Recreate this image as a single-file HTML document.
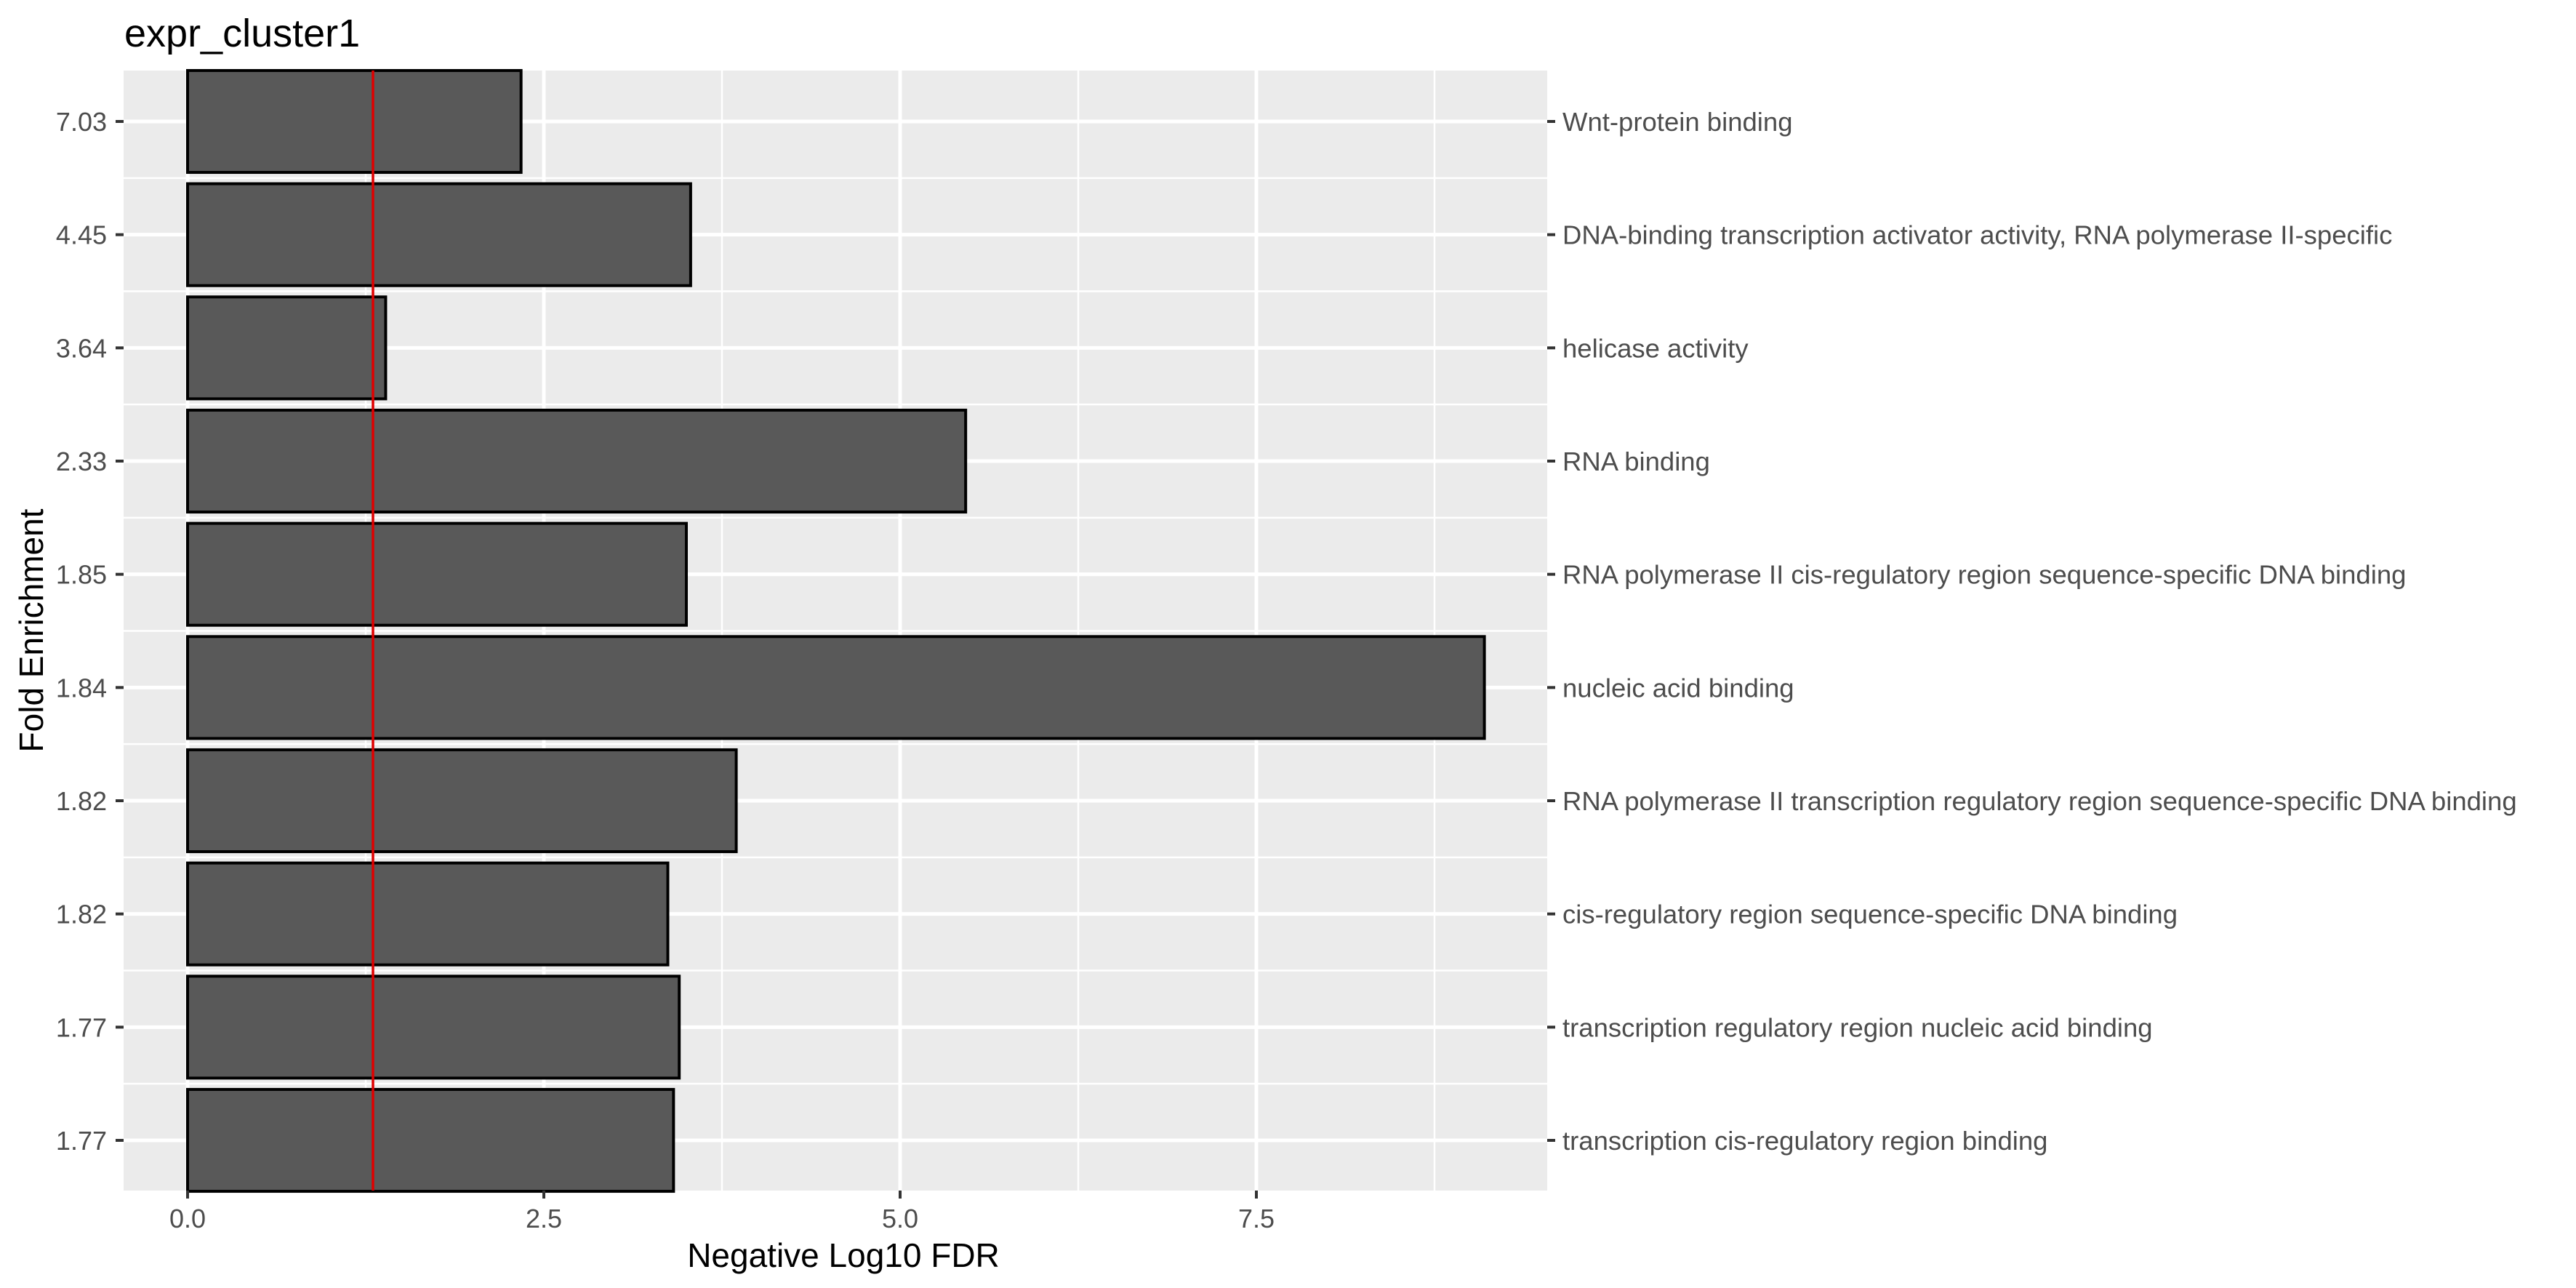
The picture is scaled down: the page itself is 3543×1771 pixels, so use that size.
<!DOCTYPE html>
<html><head><meta charset="utf-8"><style>html,body{margin:0;padding:0;background:#fff}svg{display:block}text{font-family:"Liberation Sans",sans-serif}</style></head>
<body>
<svg id="chart" width="3543" height="1771" viewBox="0 0 3543 1771" xmlns="http://www.w3.org/2000/svg">
<rect x="0" y="0" width="3543" height="1771" fill="#fff"/>
<rect x="170" y="97" width="1958" height="1540" fill="#EBEBEB"/>
<g id="grid"></g><g id="bars"></g><g id="axes"></g>
<text x="171" y="64" font-size="54" fill="#000">expr_cluster1</text>
<text x="1160" y="1742" font-size="46" text-anchor="middle" fill="#000">Negative Log10 FDR</text>
<text transform="translate(59,867) rotate(-90)" font-size="46" text-anchor="middle" fill="#000">Fold Enrichment</text>
</svg>
<script>
const foldLabels=["7.03","4.45","3.64","2.33","1.85","1.84","1.82","1.82","1.77","1.77"];
const terms=["Wnt-protein binding","DNA-binding transcription activator activity, RNA polymerase II-specific","helicase activity","RNA binding","RNA polymerase II cis-regulatory region sequence-specific DNA binding","nucleic acid binding","RNA polymerase II transcription regulatory region sequence-specific DNA binding","cis-regulatory region sequence-specific DNA binding","transcription regulatory region nucleic acid binding","transcription cis-regulatory region binding"];
const values=[2.34,3.53,1.39,5.46,3.50,9.10,3.85,3.37,3.45,3.41];
const xTicks=[0,2.5,5,7.5];
const xTickLabels=["0.0","2.5","5.0","7.5"];
const threshold=1.301;
const NS="http://www.w3.org/2000/svg";
const PL=170,PR=2128,PT=97,PB=1637;
const x=v=>258+v*196;
const y0=167,step=(1568-167)/9;
const y=i=>y0+i*step;
function mk(p,tag,a){const e=document.createElementNS(NS,tag);for(const k in a)e.setAttribute(k,a[k]);p.appendChild(e);return e;}
const G=document.getElementById('grid'),B=document.getElementById('bars'),A=document.getElementById('axes');
for(let i=0;i<xTicks.length;i++){const m=xTicks[i]+1.25;if(x(m)<PR){const l=mk(G,'line',{x1:x(m),x2:x(m),y1:PT,y2:PB,stroke:'#fff','stroke-width':2.5});}}
for(let i=0;i<foldLabels.length-1;i++){const l=mk(G,'line',{x1:PL,x2:PR,y1:y(i)+step/2,y2:y(i)+step/2,stroke:'#fff','stroke-width':2.5});}
xTicks.forEach((t,i)=>{const l=mk(G,'line',{x1:x(t),x2:x(t),y1:PT,y2:PB,stroke:'#fff','stroke-width':5});
const tk=mk(A,'line',{x1:x(t),x2:x(t),y1:PB,y2:PB+11,stroke:'#333','stroke-width':4});
const tx=mk(A,'text',{x:x(t),y:1688,'font-size':36,'text-anchor':'middle',fill:'#4D4D4D'});tx.textContent=xTickLabels[i];});
foldLabels.forEach((f,i)=>{const l=mk(G,'line',{x1:PL,x2:PR,y1:y(i),y2:y(i),stroke:'#fff','stroke-width':5});
const tk=mk(A,'line',{x1:PL-11,x2:PL,y1:y(i),y2:y(i),stroke:'#333','stroke-width':4});
const tx=mk(A,'text',{x:147,y:y(i)+13,'font-size':36,'text-anchor':'end',fill:'#4D4D4D'});tx.textContent=f;
const tk2=mk(A,'line',{x1:PR,x2:PR+11,y1:y(i),y2:y(i),stroke:'#333','stroke-width':4});
const t2=mk(A,'text',{x:2149,y:y(i)+13,'font-size':36.5,fill:'#4D4D4D'});t2.textContent=terms[i];
const h=step*0.9;const r=mk(B,'rect',{x:x(0),y:y(i)-h/2,width:x(values[i])-x(0),height:h,fill:'#595959',stroke:'#000','stroke-width':4});});
const rl=mk(B,'line',{x1:x(threshold),x2:x(threshold),y1:PT,y2:PB,stroke:'#E00000','stroke-width':3.5});


</script>
</body></html>
